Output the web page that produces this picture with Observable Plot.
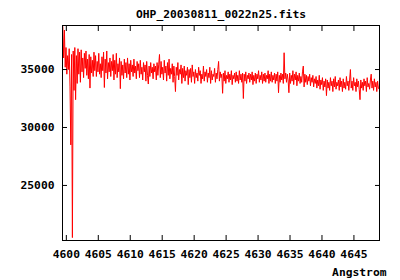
<!DOCTYPE html>
<html><head><meta charset="utf-8">
<script src="https://cdn.jsdelivr.net/npm/d3@7"></script>
<script src="https://cdn.jsdelivr.net/npm/@observablehq/plot@0.6"></script>
<style>body{margin:0;background:#fff} svg{display:block}</style>
</head><body><div id="chart"></div>
<script>
const titleText = "OHP_20030811_0022n25.fits";
const xLabel = "Angstrom";
const lambdaStart = 4599.45;
const lambdaStep = 0.125;
const flux = [
 38700,36000,38400,35200,36900,34600,36200,35000,36800,33500,
 28500,36300,20500,36600,33200,36900,32400,36200,33800,36800,
 34600,36500,33900,36700,34800,36000,34300,36400,35100,36600,
 34500,35900,34200,36300,33400,36100,34700,35800,34400,36500,
 34900,36200,34400,35700,34800,36400,34600,35500,34300,36100,
 34900,36500,33450,35900,34700,36600,34200,35600,34800,36000,
 34400,35700,34900,36300,34100,35800,34600,36400,34300,35500,
 34800,36000,33350,35700,34500,35400,34200,35900,34700,35600,
 34300,36000,34600,35500,34100,35800,34800,35400,34400,35900,
 34700,35300,34200,35700,34900,35500,34300,35800,34600,35200,
 34100,35600,34800,35400,34000,35700,34500,33750,35300,34400,
 35600,34700,35200,34200,35500,34800,35300,34100,35600,34500,
 35400,36300,34300,35700,34600,35200,34100,35800,34700,35300,
 34000,35600,34500,35900,34200,35100,34600,35500,33900,35300,
 34400,33100,35200,34500,35600,34100,35000,34600,35400,33800,
 35100,34300,35300,34000,34900,34500,35200,33700,35000,34300,
 35100,33900,35400,34400,34800,33800,35000,34300,34700,34000,
 35200,34500,34900,33800,34600,34200,35300,34000,34800,34400,
 35000,33900,34700,34300,35200,33800,34900,34100,34600,34400,
 35100,33900,34700,34200,35000,35700,34000,34800,34300,34600,
 32950,34700,34000,34900,33800,34500,34200,34800,33900,34600,
 34100,34900,33700,34500,34200,34700,33900,34800,34000,34500,
 33800,34900,34100,34600,33900,34700,32500,34600,34000,34800,
 33800,34500,34200,34700,33900,34600,34100,34800,33700,34500,
 34000,34700,33800,34600,34200,34900,33900,34500,34100,34800,
 33800,34600,34000,34700,33900,34500,34200,34900,33800,34600,
 34000,34800,33900,34500,34100,34700,33800,34600,34000,34800,
 33000,34500,33900,34700,34100,34600,33800,36450,34200,34700,
 33900,34600,34100,33000,34700,33800,34500,34000,34900,33700,
 34600,34100,34800,33600,34500,34000,34700,33800,34400,33900,
 34800,35300,33500,34600,33900,34500,33700,34400,34000,34600,
 33600,34300,33900,34500,33500,34200,33800,34400,33400,34100,
 33600,34500,33300,34100,33700,34300,33200,34000,33500,34200,
 32750,34100,33400,33900,33200,34300,33600,34000,33100,34200,
 33500,34400,33300,33900,33600,34100,33200,34300,33500,34000,
 33100,34200,33400,33900,33300,34400,33600,34000,33200,34100,
 35000,33400,34000,33200,34300,33600,33900,33100,34200,33500,
 34000,33300,32400,34100,33400,33900,33200,34200,33600,34000,
 33100,34300,33500,33800,33300,34100,34600,33400,34000,33200,
 34200,33500,33900,33100,34000,33400,33300
];
const xTicks = [4600,4605,4610,4615,4620,4625,4630,4635,4640,4645];
const yTicks = [25000,30000,35000];
const xDomain = [4599.4, 4649.0];
const yDomain = [20250, 38800];

const spectrum = flux.map((f, i) => ({lambda: lambdaStart + i * lambdaStep, flux: f}));

const font = "DejaVu Sans Mono";
const chart = Plot.plot({
  width: 400, height: 280,
  marginLeft: 62, marginRight: 21, marginTop: 25, marginBottom: 40,
  style: {fontFamily: font, fontSize: "11.3px", fontWeight: "bold", color: "#000", background: "#fff"},
  x: {domain: xDomain},
  y: {domain: yDomain},
  marks: [
    Plot.line(spectrum, {x: "lambda", y: "flux", stroke: "#ff0000", strokeWidth: 1}),
    Plot.frame({stroke: "#000", strokeWidth: 1}),
    Plot.axisX({ticks: xTicks, anchor: "bottom", tickSize: -5, tickPadding: 14, label: null, tickFormat: d => String(d)}),
    Plot.axisX({ticks: xTicks, anchor: "top", tickSize: -5, label: null, tickFormat: () => ""}),
    Plot.axisY({ticks: yTicks, anchor: "left", tickSize: -5, tickPadding: 13, label: null, tickFormat: d => String(d)}),
    Plot.axisY({ticks: yTicks, anchor: "right", tickSize: -5, label: null, tickFormat: () => ""}),
    Plot.text([titleText], {frameAnchor: "top", lineAnchor: "middle", dy: -11, fontSize: 11.3, fontWeight: "bold", fill: "#000"}),
    Plot.text([xLabel], {frameAnchor: "bottom-right", lineAnchor: "middle", textAnchor: "end", dx: 7, dy: 31.5, fontSize: 11.3, fontWeight: "bold", fill: "#000"})
  ]
});
document.getElementById("chart").appendChild(chart);
</script>
</body></html>
